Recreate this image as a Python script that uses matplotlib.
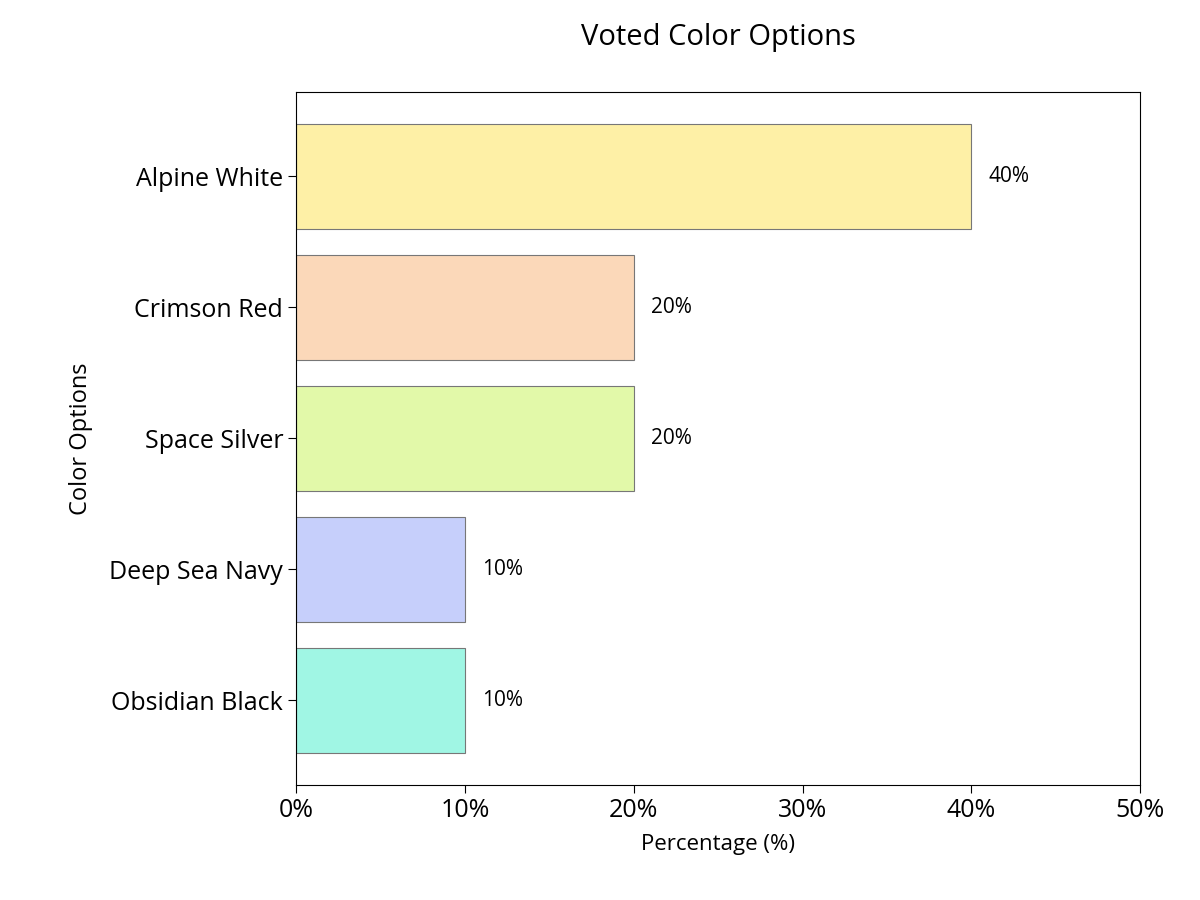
import matplotlib
matplotlib.use("Agg")
import matplotlib.pyplot as plt
from matplotlib.ticker import FuncFormatter

plt.rcParams['font.family'] = ['Open Sans', 'DejaVu Sans']

categories = ["Alpine White", "Crimson Red", "Space Silver", "Deep Sea Navy", "Obsidian Black"]
values = [40, 20, 20, 10, 10]
colors = ["#FEF0A6", "#FBD8B9", "#E2F9A9", "#C6CFFB", "#A0F6E4"]

fig = plt.figure(figsize=(12, 9), dpi=100)
ax = fig.add_axes([0.247, 0.128, 0.703, 0.77])
y = list(range(len(categories)))[::-1]
ax.barh(y, values, height=0.8, color=colors, edgecolor="#777777", linewidth=0.8)
for yi, v in zip(y, values):
    ax.text(v + 1, yi, f"{v}%", va="center", ha="left", fontsize=15)
ax.set_yticks(y)
ax.set_yticklabels(categories, fontsize=18)
ax.set_xlim(0, 50)
ax.set_ylim(-0.645, 4.645)
ax.set_xticks([0, 10, 20, 30, 40, 50])
ax.xaxis.set_major_formatter(FuncFormatter(lambda v, p: f"{v:.0f}%"))
ax.tick_params(axis='x', labelsize=18, length=6)
ax.tick_params(axis='y', length=6)
ax.set_xlabel("Percentage (%)", fontsize=16, labelpad=8)
ax.set_ylabel("Color Options", fontsize=17, labelpad=12)
ax.set_title("Voted Color Options", fontsize=21, pad=34)
fig.savefig("out.png", dpi=100)
